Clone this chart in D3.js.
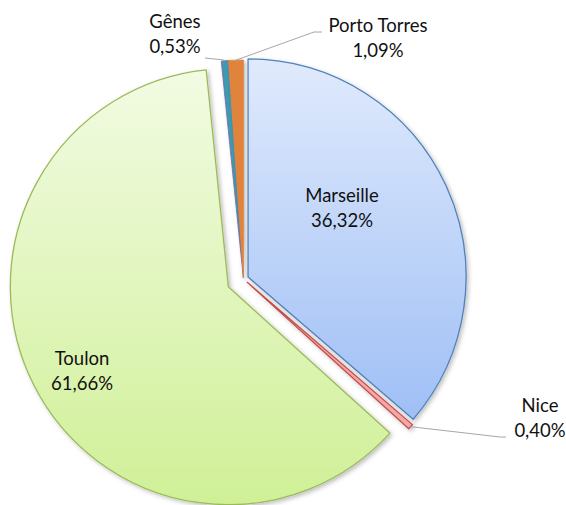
<!DOCTYPE html>
<html>
<head>
<meta charset="utf-8">
<script src="https://cdn.jsdelivr.net/npm/d3@7"></script>
<style>
  body { margin: 0; background: #fff; }
  svg text { font-family: Lato, "Open Sans", sans-serif; font-size: 18.5px; fill: #111; }
</style>
</head>
<body>
<div id="chart"></div>
<script>
// ports and their share (%)
const ports = ["Marseille", "Nice", "Toulon", "Gênes", "Porto Torres"];
const shares = [36.32, 0.40, 61.66, 0.53, 1.09];

const width = 566, height = 505;
const center = { x: 243.5, y: 279 };
const radius = 218;

// styling per slice
const fills = ["url(#gradBlue)", "#f4a7a6", "url(#gradGreen)", "#3a9bb3", "#e0843e"];
const strokes = ["#4f81bd", "#c0504d", "#9bbb59", "#7f64a0", "#e0843e"];
const strokeW = [1.3, 1.3, 1.3, 0.8, 0.8];
const explode = [5, 5, 17, 1, 1];

// label placement (baseline of first line) and leader elbows
const labelPos = [[342, 202], [540, 412], [82, 365], [175, 28], [378, 32]];
const lineGap = 25;
const leaders = {
    1: [[500, 437], [506, 437]],
    3: [[224, 60], [205, 58]],
    4: [[314, 32], [322, 32]]
};

const fmt = v => d3.format(".2f")(v).replace(".", ",") + "%";

const svg = d3.select("#chart").append("svg")
    .attr("width", width)
    .attr("height", height);

const defs = svg.append("defs");

function gradient(id, top, bottom) {
    const g = defs.append("linearGradient").attr("id", id)
        .attr("x1", 0).attr("y1", 0).attr("x2", 0).attr("y2", 1);
    g.append("stop").attr("offset", "0%").attr("stop-color", top);
    g.append("stop").attr("offset", "100%").attr("stop-color", bottom);
}
gradient("gradBlue", "#e0eafc", "#9fbff6");
gradient("gradGreen", "#f2fbe3", "#d0f097");

defs.append("filter").attr("id", "shadow")
    .attr("x", "-10%").attr("y", "-10%").attr("width", "130%").attr("height", "130%")
    .append("feDropShadow")
    .attr("dx", 2).attr("dy", 2).attr("stdDeviation", 2)
    .attr("flood-color", "#000").attr("flood-opacity", 0.25);

const pie = d3.pie().sort(null).value(d => d)(shares);
const arc = d3.arc().innerRadius(0).outerRadius(radius);

const g = svg.append("g")
    .attr("transform", "translate(" + center.x + "," + center.y + ")");

function offset(d, i) {
    const a = (d.startAngle + d.endAngle) / 2;
    return [Math.sin(a) * explode[i], -Math.cos(a) * explode[i]];
}

g.selectAll("path.slice")
    .data(pie)
    .join("path")
    .attr("class", "slice")
    .attr("d", arc)
    .attr("transform", (d, i) => "translate(" + offset(d, i) + ")")
    .attr("fill", (d, i) => fills[i])
    .attr("stroke", (d, i) => strokes[i])
    .attr("stroke-width", (d, i) => strokeW[i])
    .attr("stroke-linejoin", "round")
    .attr("filter", "url(#shadow)");

// leader lines from outer edge of slice to label
const line = d3.line();
Object.keys(leaders).forEach(k => {
    const i = +k, d = pie[i];
    const a = (d.startAngle + d.endAngle) / 2;
    const o = offset(d, i);
    const start = [center.x + o[0] + Math.sin(a) * radius, center.y + o[1] - Math.cos(a) * radius];
    svg.append("path")
        .attr("d", line([start].concat(leaders[i])))
        .attr("fill", "none")
        .attr("stroke", "#a6a6a6")
        .attr("stroke-width", 1);
});

// labels
const labels = svg.selectAll("text.label")
    .data(pie)
    .join("text")
    .attr("class", "label")
    .attr("text-anchor", "middle");

labels.append("tspan")
    .attr("x", (d, i) => labelPos[i][0])
    .attr("y", (d, i) => labelPos[i][1])
    .text((d, i) => ports[i]);
labels.append("tspan")
    .attr("x", (d, i) => labelPos[i][0])
    .attr("y", (d, i) => labelPos[i][1] + lineGap)
    .text(d => fmt(d.data));
</script>
</body>
</html>
